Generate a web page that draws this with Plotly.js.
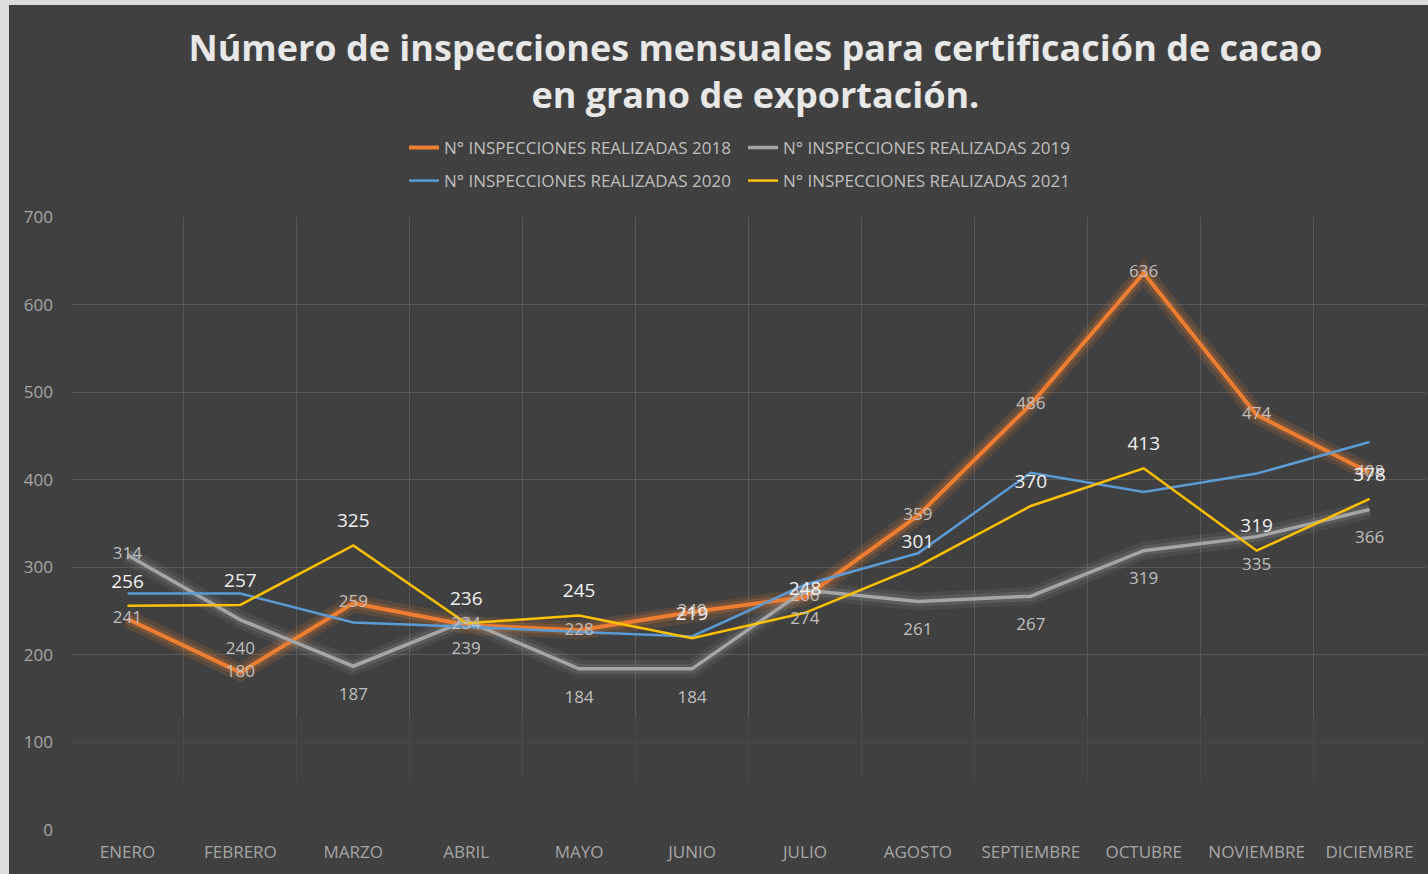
<!DOCTYPE html>
<html>
<head>
<meta charset="utf-8">
<script src="https://cdn.plot.ly/plotly-3.0.1.min.js"></script>
<style>
  html, body { margin: 0; padding: 0; background: #dcdcdc; width: 1428px; height: 874px; overflow: hidden; }
  #chart { position: absolute; left: 9px; top: 5px; width: 1419px; height: 869px; }
</style>
</head>
<body>
<div id="chart"></div>
<script>
const months = ["ENERO","FEBRERO","MARZO","ABRIL","MAYO","JUNIO","JULIO","AGOSTO","SEPTIEMBRE","OCTUBRE","NOVIEMBRE","DICIEMBRE"];
const s2018 = [241,180,259,234,228,249,266,359,486,636,474,408];
const s2019 = [314,240,187,239,184,184,274,261,267,319,335,366];
const s2020 = [270,270,237,232,226,221,280,316,408,386,407,443];
const s2021 = [256,257,325,236,245,219,248,301,370,413,319,378];
const names = ["N° INSPECCIONES REALIZADAS 2018","N° INSPECCIONES REALIZADAS 2019","N° INSPECCIONES REALIZADAS 2020","N° INSPECCIONES REALIZADAS 2021"];
const titleText = "Número de inspecciones mensuales para certificación de cacao<br>en grano de exportación.";

const cOrange = "#ED7D31", cGray = "#A5A5A5", cBlue = "#5B9BD5", cYellow = "#FFC000";
const lblFont = "Open Sans, Noto Sans, sans-serif";

const traces = [
  // glows
  {x: months, y: s2018, mode: "lines", line: {color: "rgba(237,125,49,0.14)", width: 18}, showlegend: false, hoverinfo: "skip"},
  {x: months, y: s2018, mode: "lines", line: {color: "rgba(237,125,49,0.22)", width: 10}, showlegend: false, hoverinfo: "skip"},
  {x: months, y: s2019, mode: "lines", line: {color: "rgba(190,190,190,0.08)", width: 18}, showlegend: false, hoverinfo: "skip"},
  {x: months, y: s2019, mode: "lines", line: {color: "rgba(190,190,190,0.14)", width: 10}, showlegend: false, hoverinfo: "skip"},
  // main lines
  {x: months, y: s2018, name: names[0], mode: "lines", line: {color: cOrange, width: 4}, legend: "legend"},
  {x: months, y: s2019, name: names[1], mode: "lines", line: {color: cGray, width: 3.5}, legend: "legend"},
  {x: months, y: s2020, name: names[2], mode: "lines", line: {color: cBlue, width: 2.5}, legend: "legend2"},
  {x: months, y: s2021, name: names[3], mode: "lines", line: {color: cYellow, width: 2.5}, legend: "legend2"},
  // labels
  {x: months, y: s2018, mode: "text", text: s2018.map(String), textposition: "middle center",
   textfont: {family: lblFont, size: 17, color: "#bfbfbf"}, showlegend: false, hoverinfo: "skip"},
  {x: months, y: s2019, mode: "markers+text", marker: {size: 32, opacity: 0}, text: s2019.map(String),
   textposition: ["middle center"].concat(Array(11).fill("bottom center")),
   textfont: {family: lblFont, size: 17, color: "#bfbfbf"}, showlegend: false, hoverinfo: "skip"},
  {x: months, y: s2021, mode: "markers+text", marker: {size: 20, opacity: 0}, text: s2021.map(String), textposition: "top center",
   textfont: {family: lblFont, size: 19, color: "#f2f2f2"}, showlegend: false, hoverinfo: "skip"}
];

// gradual fading of the gridlines toward the bottom of the plot (styling only, no data marks or labels below 130)
const fade = [[0, 60, 0.85], [60, 130, 0.55]];
const shapes = fade.map(f => ({type: "rect", layer: "above", xref: "paper", yref: "y", x0: 0, x1: 1, y0: f[0], y1: f[1],
  fillcolor: "rgba(64,64,64," + f[2] + ")", line: {width: 0}}));

const legFont = {family: lblFont, size: 17, color: "#bfbfbf"};
const layout = {
  width: 1419, height: 869,
  paper_bgcolor: "#404040", plot_bgcolor: "#404040",
  margin: {l: 62, r: 2, t: 212, b: 44, pad: 0},
  title: {text: titleText, x: 0.526, xanchor: "center", y: 1 - 56/869, yanchor: "middle", yref: "container",
          font: {family: "Open Sans, sans-serif", size: 36, color: "#e8e8e8", weight: "bold"}},
  xaxis: {type: "category", range: [-0.5, 11.5], showgrid: true, gridcolor: "#585858", gridwidth: 1,
          tickson: "boundaries", ticks: "", showline: false, zeroline: false, fixedrange: true,
          tickfont: {family: lblFont, size: 17, color: "#a6a6a6"}, ticklabelstandoff: 10},
  yaxis: {range: [0, 700], dtick: 100, tick0: 0, showgrid: true, gridcolor: "#585858", gridwidth: 1,
          zeroline: false, showline: false, ticks: "", fixedrange: true,
          tickfont: {family: lblFont, size: 17, color: "#a6a6a6"}, ticklabelstandoff: 17},
  legend: {orientation: "h", xref: "container", yref: "container", x: 395/1419, y: 1 - 143/869, xanchor: "left", yanchor: "middle",
           entrywidth: 294, bgcolor: "rgba(0,0,0,0)", font: legFont, itemclick: false},
  legend2: {orientation: "h", xref: "container", yref: "container", x: 395/1419, y: 1 - 176/869, xanchor: "left", yanchor: "middle",
           entrywidth: 294, bgcolor: "rgba(0,0,0,0)", font: legFont, itemclick: false},
  shapes: shapes,
  showlegend: true
};

Plotly.newPlot("chart", traces, layout, {displayModeBar: false, staticPlot: true});
</script>
</body>
</html>
